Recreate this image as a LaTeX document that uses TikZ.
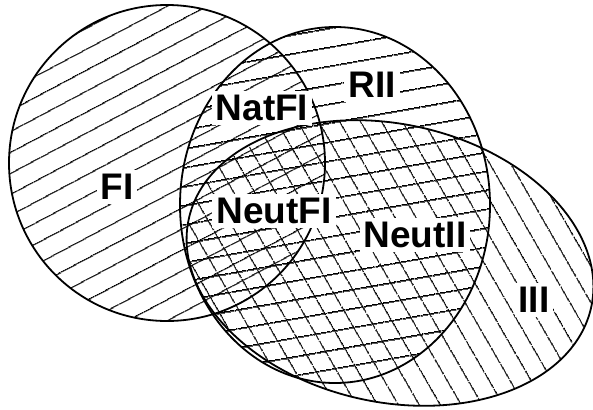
\documentclass[tikz,border=0pt]{standalone}
\usepackage{fontspec}
\setmainfont{Liberation Sans}
\usetikzlibrary{patterns.meta}

\begin{document}
\begin{tikzpicture}[x=1pt,y=1pt,
  hatch/.style={pattern={Lines[angle=#1,distance=18.5pt,line width=1.5pt]},pattern color=black},
  rim/.style={line width=1.8pt,black},
  lab/.style={fill=white,inner sep=4pt,font=\bfseries\fontsize{37}{40}\selectfont}]
\useasboundingbox (0,0) rectangle (593,-409);
% hatching of the three sets
\path[hatch=28] (167,-163) circle (158);
\path[hatch=10] (335,-205) ellipse (155 and 178);
\path[hatch=-60] (390,-263) ellipse [x radius=206,y radius=139,rotate=-12.4];
% outlines
\draw[rim] (167,-163) circle (158);
\draw[rim] (335,-205) ellipse (155 and 178);
\draw[rim] (390,-263) ellipse [x radius=206,y radius=139,rotate=-12.4];
% labels
\node[lab] (fi) at (117,-187) {FI};
\node[lab] (rii) at (372,-85) {RII};
\node[lab] (natfi) at (262,-108) {NatFI};
\node[lab] (neutfi) at (274,-211) {NeutFI};
\node[lab] (neutii) at (415,-235) {NeutII};
\node[lab] (iii) at (534,-300) {III};
\end{tikzpicture}
\end{document}
